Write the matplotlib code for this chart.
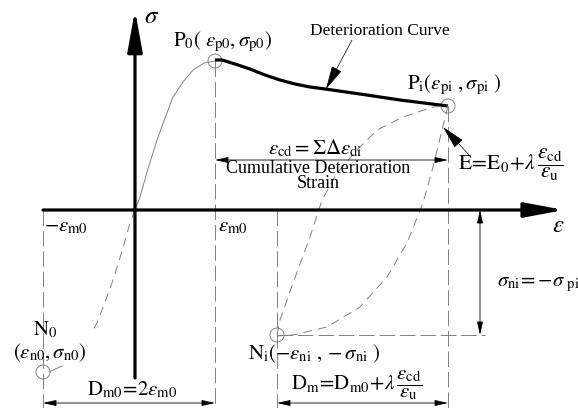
import matplotlib
matplotlib.use('Agg')
import matplotlib.pyplot as plt
from matplotlib.patches import Circle

plt.rcParams['font.family'] = ['Liberation Serif', 'DejaVu Serif']
plt.rcParams['mathtext.fontset'] = 'stix'

W, H = 578, 408

# key points of the hysteresis model (drawing units, y grows downward)
origin = (135, 210)
P0 = (215, 61)
Pi = (448, 106)
N0 = (43, 372)
Ni = (277, 335)
eps_m0_neg = 43
eps_m0 = 215

# skeleton curve, tension side (origin -> P0)
skel_x = [135, 140, 147, 157, 165, 173, 183, 193, 204, 215]
skel_y = [210, 197, 172, 140, 118, 97, 82, 70, 63, 61]
# skeleton curve, compression side (origin -> N0 label)
comp_x = [135, 130, 123, 113, 105, 97, 93]
comp_y = [210, 223, 248, 280, 302, 323, 330]
# deterioration curve P0 -> Pi
det_x = [215, 222, 235, 250, 265, 280, 295, 310, 325, 360, 400, 448]
det_y = [60, 60, 64, 69, 75, 80, 84, 87, 89, 94, 100, 106]
# reloading branch Ni -> Pi
rel_x = [277, 280, 293, 310, 322, 337, 357, 377, 403, 433, 448]
rel_y = [335, 320, 283, 237, 200, 173, 150, 130, 117, 107, 106]
# unloading branch Pi -> Ni
unl_x = [448, 442, 433, 423, 407, 387, 360, 327, 293, 277]
unl_y = [106, 130, 167, 203, 243, 277, 307, 327, 335, 336]

fig = plt.figure(figsize=(W / 100, H / 100), dpi=100)
ax = fig.add_axes([0, 0, 1, 1])
ax.set_xlim(0, W)
ax.set_ylim(H, 0)
ax.axis('off')

grey = '#808080'
thin = dict(color=grey, lw=0.7)

# curves
ax.plot(skel_x, skel_y, **thin)
ax.plot(comp_x, comp_y, ls=(0, (9, 6)), **thin)
ax.plot(det_x, det_y, color='k', lw=2.3, solid_capstyle='butt')
ax.plot(rel_x, rel_y, ls=(0, (9, 6)), **thin)
ax.plot(unl_x, unl_y, ls=(0, (9, 6)), **thin)
ax.plot([62, 49], [366, 372], **thin)

# reference lines
ref = dict(color=grey, lw=0.7, ls=(0, (16, 5)))
ax.plot([eps_m0_neg, eps_m0_neg], [origin[1], H], **ref)
ax.plot([eps_m0, eps_m0], [P0[1], H], **ref)
ax.plot([Ni[0], Ni[0]], [origin[1], H], **ref)
ax.plot([Pi[0], Pi[0]], [Pi[1], H], **ref)
ax.plot([Ni[0], 485], [Ni[1], Ni[1]], **ref)

# circles at characteristic points
for c in (P0, Pi, N0, Ni):
    ax.add_patch(Circle(c, 7, fill=False, ec=grey, lw=0.7))

# axes arrows
ax.annotate('', xy=(135, 10), xytext=(135, 378),
            arrowprops=dict(arrowstyle='-|>,head_length=2.5,head_width=0.45',
                            mutation_scale=10, lw=2.3, color='k',
                            shrinkA=0, shrinkB=0))
ax.annotate('', xy=(564, 210), xytext=(43, 210),
            arrowprops=dict(arrowstyle='-|>,head_length=2.4,head_width=0.45',
                            mutation_scale=10, lw=2.3, color='k',
                            shrinkA=0, shrinkB=0))


def dim(p1, p2):
    ax.annotate('', xy=p2, xytext=p1,
                arrowprops=dict(arrowstyle='<|-|>,head_length=0.8,head_width=0.18',
                                mutation_scale=10, lw=0.6, color='k',
                                shrinkA=0, shrinkB=0))


dim((eps_m0, 160), (Pi[0], 160))
dim((eps_m0_neg, 403), (eps_m0, 403))
dim((Ni[0], 403), (Pi[0], 403))
dim((480, origin[1]), (480, Ni[1]))

# leaders
ax.annotate('', xy=(326, 89), xytext=(352, 40),
            arrowprops=dict(arrowstyle='-|>,head_length=1.5,head_width=0.35',
                            mutation_scale=10, lw=0.5, color='k',
                            shrinkA=0, shrinkB=0))
ax.annotate('', xy=(443, 127), xytext=(471, 157),
            arrowprops=dict(arrowstyle='-|>,head_length=1.5,head_width=0.35',
                            mutation_scale=10, lw=0.5, color='k',
                            shrinkA=0, shrinkB=0))

t = dict(ha='center', va='center', color='k')
ax.text(152, 17, r'$\sigma$', fontsize=18, **t)
ax.text(222, 42, r'$\mathrm{P}_0(\ \varepsilon_{\mathrm{p0}},\sigma_{\mathrm{p0}})$', fontsize=15, **t)
ax.text(380, 31, 'Deterioration Curve', fontsize=12.5, **t)
ax.text(454, 85, r'$\mathrm{P}_{\mathrm{i}}(\varepsilon_{\mathrm{pi}}\ ,\sigma_{\mathrm{pi}}\ )$', fontsize=15, **t)
ax.text(315, 148, r'$\varepsilon_{\mathrm{cd}}=\Sigma\Delta\varepsilon_{\mathrm{di}}$', fontsize=15, **t)
ax.text(318, 176, 'Cumulative Deterioration\nStrain', fontsize=13, linespacing=0.9, **t)
ax.text(511, 165, r'$\mathrm{E}\!=\!\mathrm{E}_0\!+\!\lambda\,\dfrac{\varepsilon_{\mathrm{cd}}}{\varepsilon_{\mathrm{u}}}$', fontsize=15.5, **t)
ax.text(66, 227, r'$-\varepsilon_{\mathrm{m0}}$', fontsize=15, **t)
ax.text(233, 227, r'$\varepsilon_{\mathrm{m0}}$', fontsize=15, **t)
ax.text(558, 226, r'$\varepsilon$', fontsize=18, **t)
ax.text(538, 285, r'$\sigma_{\mathrm{ni}}\!=\!-\!\sigma_{\ \mathrm{pi}}$', fontsize=15, **t)
ax.text(45, 330, r'$\mathrm{N}_0$', fontsize=15, **t)
ax.text(50, 353, r'$(\varepsilon_{\mathrm{n0}},\sigma_{\mathrm{n0}})$', fontsize=15, **t)
ax.text(314, 354, r'$\mathrm{N}_{\mathrm{i}}(-\varepsilon_{\mathrm{ni}}\ ,-\sigma_{\mathrm{ni}}\ )$', fontsize=15, **t)
ax.text(132, 390, r'$\mathrm{D}_{\mathrm{m0}}\!=\!2\varepsilon_{\mathrm{m0}}$', fontsize=15, **t)
ax.text(357, 385, r'$\mathrm{D}_{\mathrm{m}}\!=\!\mathrm{D}_{\mathrm{m0}}\!+\!\lambda\,\dfrac{\varepsilon_{\mathrm{cd}}}{\varepsilon_{\mathrm{u}}}$', fontsize=15, **t)

fig.savefig('out.png', dpi=100)
